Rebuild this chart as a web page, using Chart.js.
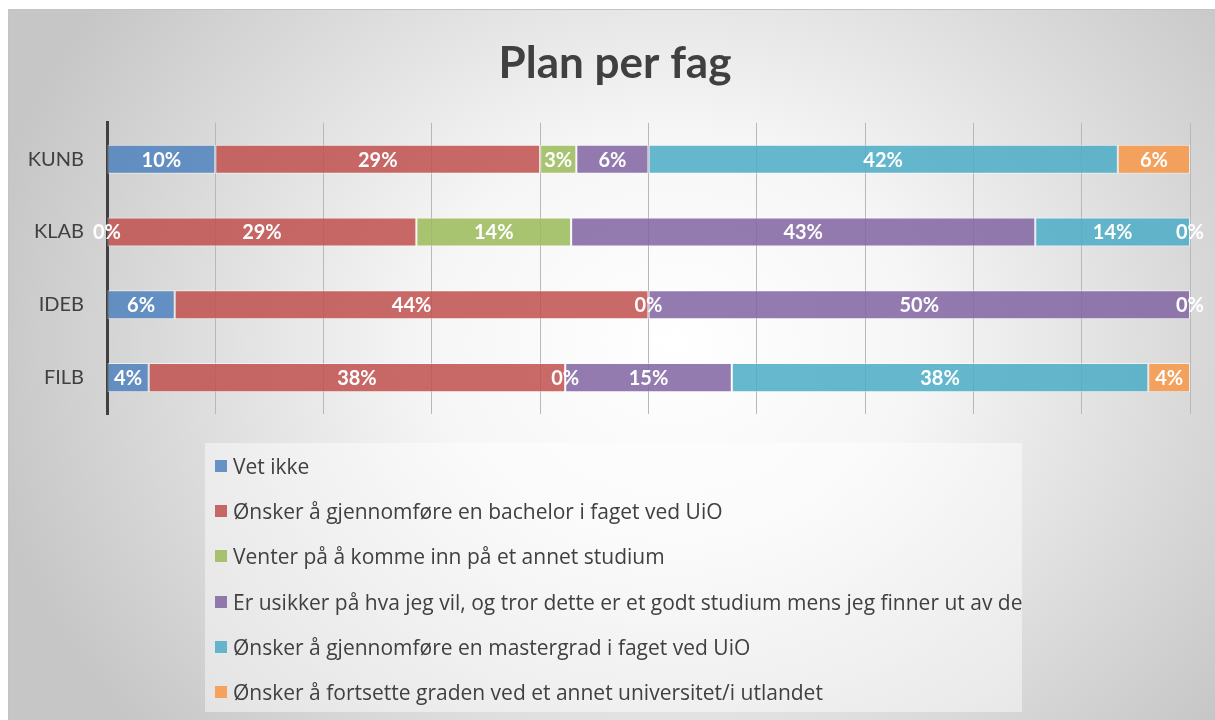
<!DOCTYPE html>
<html>
<head>
<meta charset="utf-8">
<script src="https://cdn.jsdelivr.net/npm/chart.js@4.4.0/dist/chart.umd.min.js"></script>
<style>
  html, body { margin: 0; padding: 0; background: #fff; }
  #wrap {
    position: absolute; left: 8px; top: 9px; width: 1207px; height: 711px;
    border-top: 1px solid #c4c4c4; border-left: 1px solid #c4c4c4; box-sizing: border-box;
    background: radial-gradient(ellipse 700px 600px at 55% 47%, #ffffff 0%, #f6f6f6 35%, #c6c6c6 100%);
  }
  #chart { position: absolute; left: 0; top: 0; }
  #legend {
    position: absolute; left: 196px; top: 433px; width: 817px; height: 269px;
    background: rgba(255,255,255,0.45);
    font-family: "Open Sans", sans-serif; font-size: 21px; color: #404040;
  }
  .item { height: 45.3px; display: flex; align-items: center; padding-left: 10px; white-space: nowrap; }
  .box { width: 12px; height: 12px; margin-right: 6px; flex: none; }
</style>
</head>
<body>
<div id="wrap">
  <canvas id="chart" width="1207" height="711"></canvas>
  <div id="legend"></div>
</div>
<script>
var categories = ["KUNB", "KLAB", "IDEB", "FILB"];
var seriesNames = [
  "Vet ikke",
  "Ønsker å gjennomføre en bachelor i faget ved UiO",
  "Venter på å komme inn på et annet studium",
  "Er usikker på hva jeg vil, og tror dette er et godt studium mens jeg finner ut av de",
  "Ønsker å gjennomføre en mastergrad i faget ved UiO",
  "Ønsker å fortsette graden ved et annet universitet/i utlandet"
];
// share of respondents, percent
var vetIkke  = [9.68, 0, 6.25, 3.85];
var bachelor = [29.03, 28.57, 43.75, 38.46];
var venter   = [3.23, 14.29, 0, 0];
var usikker  = [6.45, 42.86, 50, 15.38];
var master   = [41.94, 14.29, 0, 38.46];
var annet    = [6.45, 0, null, 3.85];
var colors = ["#4F81BD", "#C0504D", "#9BBB59", "#8064A2", "#4BACC6", "#F79646"];

var series = [vetIkke, bachelor, venter, usikker, master, annet];

// 100% stacked: scale each category to its total
var totals = categories.map(function(c, i) {
    return series.reduce(function(s, arr) { return s + (arr[i] || 0); }, 0);
});

function rgba(hex, a) {
    var n = parseInt(hex.slice(1), 16);
    return "rgba(" + (n >> 16) + "," + ((n >> 8) & 255) + "," + (n & 255) + "," + a + ")";
}

var datasets = series.map(function(arr, k) {
    return {
        label: seriesNames[k],
        raw: arr,
        data: arr.map(function(v, i) { return v === null ? null : v / totals[i] * 100; }),
        backgroundColor: rgba(colors[k], 0.85),
        borderColor: "rgba(255,255,255,0.55)",
        borderWidth: 1,
        borderSkipped: false,
        categoryPercentage: 1,
        barPercentage: 0.4
    };
});

var valueLabels = {
    id: "valueLabels",
    afterLayout: function(chart) {
        // title is centred on the whole frame, not just the padded box
        chart.titleBlock.left = 31;
    },
    afterDatasetsDraw: function(chart) {
        var ctx = chart.ctx;
        ctx.save();
        ctx.font = "bold 20px Lato";
        ctx.fillStyle = "#ffffff";
        ctx.textAlign = "center";
        ctx.textBaseline = "middle";
        chart.data.datasets.forEach(function(ds, k) {
            chart.getDatasetMeta(k).data.forEach(function(el, i) {
                if (ds.raw[i] === null) return;
                ctx.fillText(Math.round(ds.raw[i]) + "%", (el.x + el.base) / 2, el.y + 1);
            });
        });
        ctx.restore();
    }
};

var chart = new Chart(document.getElementById("chart").getContext("2d"), {
    type: "bar",
    data: { labels: categories, datasets: datasets },
    options: {
        indexAxis: "y",
        responsive: false,
        animation: false,
        layout: { padding: { top: 0, right: 26, bottom: 307, left: 0 } },
        plugins: {
            legend: { display: false },
            tooltip: { enabled: false },
            title: {
                display: true,
                text: "Plan per fag",
                color: "#404040",
                font: { family: "Lato", size: 44, weight: "bold" },
                padding: { top: 27, bottom: 33 }
            }
        },
        scales: {
            x: {
                stacked: true, min: 0, max: 100,
                ticks: { display: false, stepSize: 10 },
                grid: { color: "#b8b8b8", lineWidth: 1, drawTicks: false },
                border: { display: false },
                afterFit: function(s) { s.height = 0; }
            },
            y: {
                stacked: true,
                ticks: { color: "#404040", font: { family: "Lato", size: 20 }, padding: 23 },
                grid: { display: false, drawTicks: false },
                border: { display: true, color: "#404040", width: 3 },
                afterFit: function(s) { s.width = 98; }
            }
        }
    },
    plugins: [valueLabels]
});

var legend = document.getElementById("legend");
datasets.forEach(function(ds, k) {
    var row = document.createElement("div");
    row.className = "item";
    var box = document.createElement("span");
    box.className = "box";
    box.style.background = rgba(colors[k], 0.85);
    row.appendChild(box);
    row.appendChild(document.createTextNode(ds.label));
    legend.appendChild(row);
});
</script>
</body>
</html>
